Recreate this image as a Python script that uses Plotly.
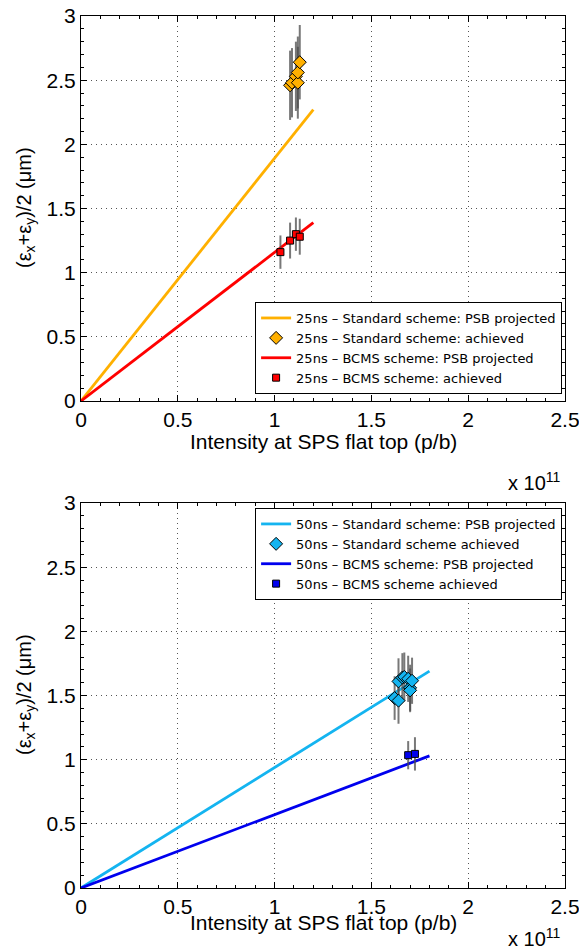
import plotly.graph_objects as go

# ---- data (intensity in units of 1e11 p/b, emittance in um) ----
proj_x_25 = [0.0, 1.2]
std25_proj_y = [0.0, 2.27]
bcms25_proj_y = [0.0, 1.39]

std25_x = [1.08, 1.09, 1.11, 1.12, 1.12, 1.13]
std25_y = [2.46, 2.48, 2.53, 2.48, 2.56, 2.64]
std25_err = [0.27, 0.27, 0.27, 0.28, 0.28, 0.29]

bcms25_x = [1.03, 1.08, 1.11, 1.13]
bcms25_y = [1.16, 1.25, 1.30, 1.28]
bcms25_err = [0.13, 0.14, 0.13, 0.14]

proj_x_50 = [0.0, 1.8]
std50_proj_y = [0.0, 1.69]
bcms50_proj_y = [0.0, 1.03]

std50_x = [1.62, 1.64, 1.64, 1.66, 1.67, 1.69, 1.70, 1.70, 1.71]
std50_y = [1.48, 1.46, 1.61, 1.64, 1.645, 1.63, 1.56, 1.54, 1.615]
std50_err = [0.17, 0.18, 0.18, 0.19, 0.19, 0.18, 0.18, 0.17, 0.18]

bcms50_x = [1.69, 1.725]
bcms50_y = [1.035, 1.045]
bcms50_err = [0.11, 0.13]

x_ticks = [0, 0.5, 1, 1.5, 2, 2.5]
y_ticks = [0, 0.5, 1, 1.5, 2, 2.5, 3]

FONT = "Liberation Sans, Arial, sans-serif"
LEGFONT = "DejaVu Sans, sans-serif"
ORANGE = "#FFB000"
RED = "#FF0000"
CYAN = "#14B4F0"
BLUE = "#0000EE"
ERRC = "rgba(75,75,75,0.75)"

fig = go.Figure()

def err(a):
    return dict(type="data", array=a, visible=True, color=ERRC, thickness=2, width=0)

# top panel
fig.add_trace(go.Scatter(x=proj_x_25, y=std25_proj_y, mode="lines",
                         line=dict(color=ORANGE, width=2.8),
                         name="25ns \u2013 Standard scheme: PSB projected",
                         xaxis="x", yaxis="y", legend="legend"))
fig.add_trace(go.Scatter(x=std25_x, y=std25_y, mode="markers", error_y=err(std25_err),
                         marker=dict(symbol="diamond", size=10, color=ORANGE,
                                     line=dict(color="black", width=1)),
                         name="25ns \u2013 Standard scheme: achieved",
                         xaxis="x", yaxis="y", legend="legend"))
fig.add_trace(go.Scatter(x=proj_x_25, y=bcms25_proj_y, mode="lines",
                         line=dict(color=RED, width=2.8),
                         name="25ns \u2013 BCMS scheme: PSB projected",
                         xaxis="x", yaxis="y", legend="legend"))
fig.add_trace(go.Scatter(x=bcms25_x, y=bcms25_y, mode="markers", error_y=err(bcms25_err),
                         marker=dict(symbol="square", size=7, color=RED,
                                     line=dict(color="black", width=1)),
                         name="25ns \u2013 BCMS scheme: achieved",
                         xaxis="x", yaxis="y", legend="legend"))

# bottom panel
fig.add_trace(go.Scatter(x=proj_x_50, y=std50_proj_y, mode="lines",
                         line=dict(color=CYAN, width=2.8),
                         name="50ns \u2013 Standard scheme: PSB projected",
                         xaxis="x2", yaxis="y2", legend="legend2"))
fig.add_trace(go.Scatter(x=std50_x, y=std50_y, mode="markers", error_y=err(std50_err),
                         marker=dict(symbol="diamond", size=10, color=CYAN,
                                     line=dict(color="black", width=1)),
                         name="50ns \u2013 Standard scheme achieved",
                         xaxis="x2", yaxis="y2", legend="legend2"))
fig.add_trace(go.Scatter(x=proj_x_50, y=bcms50_proj_y, mode="lines",
                         line=dict(color=BLUE, width=2.8),
                         name="50ns \u2013 BCMS scheme: PSB projected",
                         xaxis="x2", yaxis="y2", legend="legend2"))
fig.add_trace(go.Scatter(x=bcms50_x, y=bcms50_y, mode="markers", error_y=err(bcms50_err),
                         marker=dict(symbol="square", size=7, color=BLUE,
                                     line=dict(color="black", width=1)),
                         name="50ns \u2013 BCMS scheme achieved",
                         xaxis="x2", yaxis="y2", legend="legend2"))

axis_common = dict(showline=True, linecolor="black", linewidth=1, mirror="allticks",
                   ticks="inside", ticklen=6, tickcolor="black", automargin=False,
                   ticklabeloverflow="allow",
                   showgrid=True, gridcolor="#555555", griddash="1px,4px", gridwidth=1,
                   zeroline=False, tickfont=dict(size=21, color="black", family=FONT),
                   minor=dict(ticks="inside", ticklen=3, dtick=0.1, tickcolor="black",
                              showgrid=False))

xa = dict(axis_common, range=[0, 2.5], tickvals=x_ticks, ticktext=[str(t) for t in x_ticks])
ya = dict(axis_common, range=[0, 3], tickvals=y_ticks, ticktext=[str(t) for t in y_ticks])

TOP_DOM = [0.5585, 1.0]
BOT_DOM = [0.0, 0.4415]

legend_common = dict(bgcolor="white", bordercolor="black", borderwidth=1,
                     font=dict(size=13, color="black", family=LEGFONT),
                     tracegroupgap=0, xanchor="right", xref="paper", yref="paper")

ytitle = "(\u03b5<sub>x</sub>+\u03b5<sub>y</sub>)/2 (\u03bcm)"

fig.update_layout(
    width=579, height=939,
    margin=dict(l=73, r=22, t=8, b=59),
    paper_bgcolor="white", plot_bgcolor="white",
    font=dict(family=FONT, color="black"),
    xaxis=dict(xa, domain=[0, 1], anchor="y"),
    yaxis=dict(ya, domain=TOP_DOM, anchor="x"),
    xaxis2=dict(xa, domain=[0, 1], anchor="y2"),
    yaxis2=dict(ya, domain=BOT_DOM, anchor="x2"),
    legend=dict(legend_common, x=0.994, y=0.5665, yanchor="bottom"),
    legend2=dict(legend_common, x=0.994, y=0.4358, yanchor="top"),
    annotations=[
        dict(text="Intensity at SPS flat top (p/b)", x=0.5, y=0.5125, xref="paper", yref="paper",
             showarrow=False, xanchor="center", yanchor="middle", font=dict(size=21)),
        dict(text="Intensity at SPS flat top (p/b)", x=0.5, y=-0.0395, xref="paper", yref="paper",
             showarrow=False, xanchor="center", yanchor="middle", font=dict(size=21)),
        dict(text="x 10<sup>11</sup>", x=0.996, y=0.4667, xref="paper", yref="paper",
             showarrow=False, xanchor="right", yanchor="middle", font=dict(size=20)),
        dict(text="x 10<sup>11</sup>", x=0.996, y=-0.0562, xref="paper", yref="paper",
             showarrow=False, xanchor="right", yanchor="middle", font=dict(size=20)),
        dict(text=ytitle, x=-0.1157, y=0.7798, xref="paper", yref="paper", textangle=-90,
             showarrow=False, xanchor="center", yanchor="middle", font=dict(size=20)),
        dict(text=ytitle, x=-0.1157, y=0.2213, xref="paper", yref="paper", textangle=-90,
             showarrow=False, xanchor="center", yanchor="middle", font=dict(size=20)),
    ],
)

fig.write_html("out.html")
